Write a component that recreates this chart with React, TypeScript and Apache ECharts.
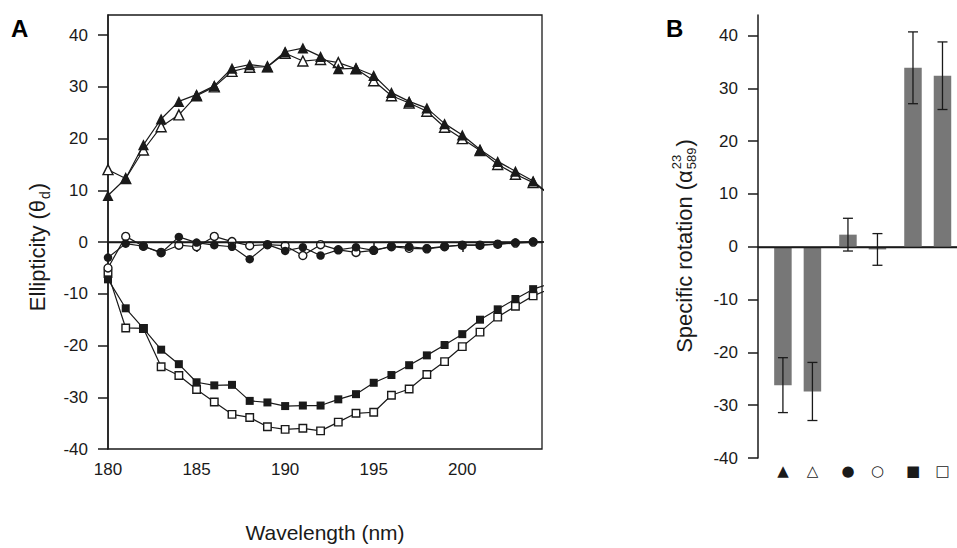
import React, { useEffect, useRef } from "react";
import * as echarts from "echarts";

// ---------- Panel A data ----------
const wavelengths = [180, 181, 182, 183, 184, 185, 186, 187, 188, 189, 190, 191, 192, 193, 194, 195, 196, 197, 198, 199, 200, 201, 202, 203, 204, 205];
const filledTriangle = [9.0, 12.3, 18.8, 23.8, 27.2, 28.5, 30.2, 33.6, 34.3, 33.9, 36.8, 37.5, 35.9, 33.5, 33.6, 32.2, 28.9, 27.2, 25.9, 22.9, 20.7, 17.9, 15.6, 13.7, 11.8, 9.0];
const openTriangle = [14.0, 12.3, 17.8, 22.3, 24.6, 28.3, 30.0, 33.0, 33.8, 33.9, 36.5, 35.0, 35.3, 34.7, 33.5, 31.2, 28.3, 26.9, 25.3, 22.2, 20.0, 17.7, 15.0, 13.1, 11.5, 9.0];
const filledCircle = [-3.0, -0.3, -0.8, -2.1, 1.0, -0.1, -0.6, -0.9, -3.3, -0.5, -1.7, -1.0, -2.6, -1.5, -1.0, -1.6, -0.8, -0.9, -1.2, -0.8, -0.6, -0.6, -0.4, -0.1, 0.1, 0.0];
const openCircle = [-5.0, 1.1, -0.8, -2.0, -0.6, -0.9, 1.1, 0.1, -0.7, -0.5, -0.7, -2.6, -0.5, -1.5, -2.0, -1.6, -0.9, -1.2, -1.3, -0.9, -0.6, -0.6, -0.4, -0.2, 0.0, 0.0];
const filledSquare = [-7.2, -12.8, -16.7, -20.8, -23.6, -27.1, -27.7, -27.6, -30.7, -31.0, -31.7, -31.6, -31.6, -30.4, -29.4, -27.2, -25.7, -23.8, -21.9, -19.9, -17.8, -15.0, -13.0, -11.0, -9.1, -8.0];
const openSquare = [-6.1, -16.6, -16.7, -24.1, -25.8, -28.5, -30.9, -33.3, -33.9, -35.7, -36.2, -36.0, -36.5, -34.8, -33.1, -32.9, -29.6, -28.4, -25.6, -23.1, -20.2, -17.4, -14.5, -12.4, -10.4, -9.0];

const xTickValues = [180, 185, 190, 195, 200];
const yTickValues = [-40, -30, -20, -10, 0, 10, 20, 30, 40];

// ---------- Panel B data ----------
const barGroups = [1, 2, 3]; // triangle pair, circle pair, square pair
const groupSymbols = [["▲", "△"], ["●", "○"], ["■", "□"]];
const barFilled = [-26.2, 2.3, 33.9];
const barOpen = [-27.4, -0.5, 32.4];
const errFilled = [5.2, 3.1, 6.8];
const errOpen = [5.5, 3.0, 6.4];

const FONT = '"Liberation Sans", Arial, Helvetica, sans-serif';
const INK = "#1a1a1a";

function measure(text: string, size: number): number {
  const c = document.createElement("canvas").getContext("2d");
  if (!c) return text.length * size * 0.55;
  c.font = `${size}px ${FONT}`;
  return c.measureText(text).width;
}

function rotatedTitle(
  cx: number,
  cy: number,
  main: string,
  sup: string,
  sub: string,
  tail: string,
  size: number,
  small: number
) {
  const wMain = measure(main, size);
  const wScript = Math.max(measure(sup, small), measure(sub, small));
  const wTail = measure(tail, size);
  const total = wMain + 1 + wScript + 1 + wTail;
  const start = -total / 2;
  const children: any[] = [
    {
      type: "text",
      x: start,
      y: 0,
      style: { text: main, fontSize: size, fontFamily: FONT, fill: INK, align: "left", verticalAlign: "middle" },
    },
  ];
  if (sup) {
    children.push({
      type: "text",
      x: start + wMain + 1,
      y: -size * 0.36,
      style: { text: sup, fontSize: small, fontFamily: FONT, fill: INK, align: "left", verticalAlign: "middle" },
    });
  }
  if (sub) {
    children.push({
      type: "text",
      x: start + wMain + 1,
      y: size * 0.36,
      style: { text: sub, fontSize: small, fontFamily: FONT, fill: INK, align: "left", verticalAlign: "middle" },
    });
  }
  children.push({
    type: "text",
    x: start + wMain + 1 + wScript + 1,
    y: 0,
    style: { text: tail, fontSize: size, fontFamily: FONT, fill: INK, align: "left", verticalAlign: "middle" },
  });
  return { type: "group", x: cx, y: cy, rotation: Math.PI / 2, silent: true, children };
}

const BAR_W = 17.5;
const BAR_GAP = 12;

function errorSeries(values: number[], errs: number[], side: number) {
  return {
    type: "custom",
    xAxisIndex: 1,
    yAxisIndex: 1,
    silent: true,
    z: 5,
    data: barGroups.map((g, i) => [g, values[i], errs[i]]),
    renderItem: (params: any, api: any) => {
      const x = api.value(0);
      const v = api.value(1);
      const e = api.value(2);
      const top = api.coord([x, v + e]);
      const bot = api.coord([x, v - e]);
      const cx = top[0] + side * (BAR_W + BAR_GAP) / 2;
      const cap = 5;
      const ls = { stroke: INK, lineWidth: 1.3 };
      return {
        type: "group",
        children: [
          { type: "line", shape: { x1: cx, y1: top[1], x2: cx, y2: bot[1] }, style: ls },
          { type: "line", shape: { x1: cx - cap, y1: top[1], x2: cx + cap, y2: top[1] }, style: ls },
          { type: "line", shape: { x1: cx - cap, y1: bot[1], x2: cx + cap, y2: bot[1] }, style: ls },
        ],
      };
    },
  };
}

function lineSeries(name: string, values: number[], symbol: string, filled: boolean, size: number, z: number) {
  return {
    name,
    type: "line",
    xAxisIndex: 0,
    yAxisIndex: 0,
    data: wavelengths.map((w, i) => [w, values[i]]),
    symbol,
    symbolSize: size,
    showAllSymbol: true,
    clip: true,
    z,
    lineStyle: { color: INK, width: 1.2 },
    itemStyle: { color: filled ? INK : "#ffffff", borderColor: INK, borderWidth: filled ? 0 : 1.4 },
  };
}

export default function App() {
  const ref = useRef<HTMLDivElement>(null);

  useEffect(() => {
    if (!ref.current) return;
    const chart = echarts.init(ref.current, undefined, { renderer: "svg" });

    const axisLine = { show: true, lineStyle: { color: INK, width: 1.5 } };
    const tickOut = { show: true, inside: false, length: 10, lineStyle: { color: INK, width: 1.5 } };
    const labelStyle = { color: INK, fontSize: 17, fontFamily: FONT };

    const option: any = {
      animation: false,
      backgroundColor: "#ffffff",
      grid: [
        { left: 108, top: 15, width: 434, height: 443, show: true, borderColor: INK, borderWidth: 1.3, backgroundColor: "transparent" },
        { left: 758, top: 15, width: 199, height: 443 },
      ],
      xAxis: [
        {
          type: "value",
          gridIndex: 0,
          min: 180,
          max: 204.5,
          splitLine: { show: false },
          axisLine,
          axisTick: { ...tickOut, customValues: xTickValues },
          axisLabel: { ...labelStyle, margin: 12, customValues: xTickValues },
          name: "Wavelength (nm)",
          nameLocation: "middle",
          nameGap: 73,
          nameTextStyle: { color: INK, fontSize: 21, fontFamily: FONT },
        },
        {
          type: "value",
          gridIndex: 1,
          min: 0.39,
          max: 3.45,
          splitLine: { show: false },
          axisLine,
          axisTick: { show: false },
          axisLabel: {
            margin: 5,
            customValues: barGroups,
            formatter: (v: number) => {
              const i = barGroups.indexOf(Math.round(v));
              if (i < 0) return "";
              return `{l|${groupSymbols[i][0]}}{r|${groupSymbols[i][1]}}`;
            },
            rich: {
              l: { width: BAR_W + BAR_GAP, align: "center", fontSize: 15, fontFamily: '"DejaVu Sans", sans-serif', color: INK },
              r: { width: BAR_W + BAR_GAP, align: "center", fontSize: 15, fontFamily: '"DejaVu Sans", sans-serif', color: INK },
            },
          },
        },
      ],
      yAxis: [
        {
          type: "value",
          gridIndex: 0,
          min: -40,
          max: 43.9,
          splitLine: { show: false },
          axisLine,
          axisTick: { ...tickOut, customValues: yTickValues },
          axisLabel: { ...labelStyle, margin: 20, customValues: yTickValues },
        },
        {
          type: "value",
          gridIndex: 1,
          min: -40,
          max: 43.9,
          splitLine: { show: false },
          axisLine,
          axisTick: { ...tickOut, customValues: yTickValues },
          axisLabel: { ...labelStyle, margin: 20, customValues: yTickValues },
        },
      ],
      series: [
        {
          ...lineSeries("open square", openSquare, "rect", false, 7.5, 2),
          markLine: {
            silent: true,
            symbol: "none",
            label: { show: false },
            lineStyle: { color: INK, width: 1.3, type: "solid" },
            data: [{ yAxis: 0 }],
          },
        },
        lineSeries("filled square", filledSquare, "rect", true, 8, 3),
        lineSeries("open circle", openCircle, "circle", false, 8, 2),
        lineSeries("filled circle", filledCircle, "circle", true, 8.5, 3),
        lineSeries("open triangle", openTriangle, "triangle", false, 10, 2),
        lineSeries("filled triangle", filledTriangle, "triangle", true, 11, 3),
        {
          name: "filled bars",
          type: "bar",
          xAxisIndex: 1,
          yAxisIndex: 1,
          barWidth: BAR_W,
          barGap: `${(BAR_GAP / BAR_W) * 100}%`,
          data: barGroups.map((g, i) => [g, barFilled[i]]),
          itemStyle: { color: "#777777" },
          markLine: {
            silent: true,
            symbol: "none",
            label: { show: false },
            lineStyle: { color: INK, width: 1.3, type: "solid" },
            data: [{ yAxis: 0 }],
          },
        },
        {
          name: "open bars",
          type: "bar",
          xAxisIndex: 1,
          yAxisIndex: 1,
          barWidth: BAR_W,
          barGap: `${(BAR_GAP / BAR_W) * 100}%`,
          data: barGroups.map((g, i) => [g, barOpen[i]]),
          itemStyle: { color: "#777777" },
        },
        errorSeries(barFilled, errFilled, -1),
        errorSeries(barOpen, errOpen, 1),
      ],
      graphic: [
        { type: "text", left: 11, top: 16, silent: true, style: { text: "A", fontSize: 24, fontWeight: "bold", fontFamily: FONT, fill: "#000" } },
        { type: "text", left: 666, top: 16, silent: true, style: { text: "B", fontSize: 24, fontWeight: "bold", fontFamily: FONT, fill: "#000" } },
        rotatedTitle(37, 247, "Ellipticity (θ", "", "d", ")", 22, 14),
        rotatedTitle(684, 246, "Specific rotation (α", "23", "589", ")", 22, 13),
      ],
    };

    chart.setOption(option);
    return () => chart.dispose();
  }, []);

  return (
    <div
      ref={ref}
      style={{ position: "fixed", left: 0, top: 0, width: 957, height: 548, background: "#fff" }}
    />
  );
}
